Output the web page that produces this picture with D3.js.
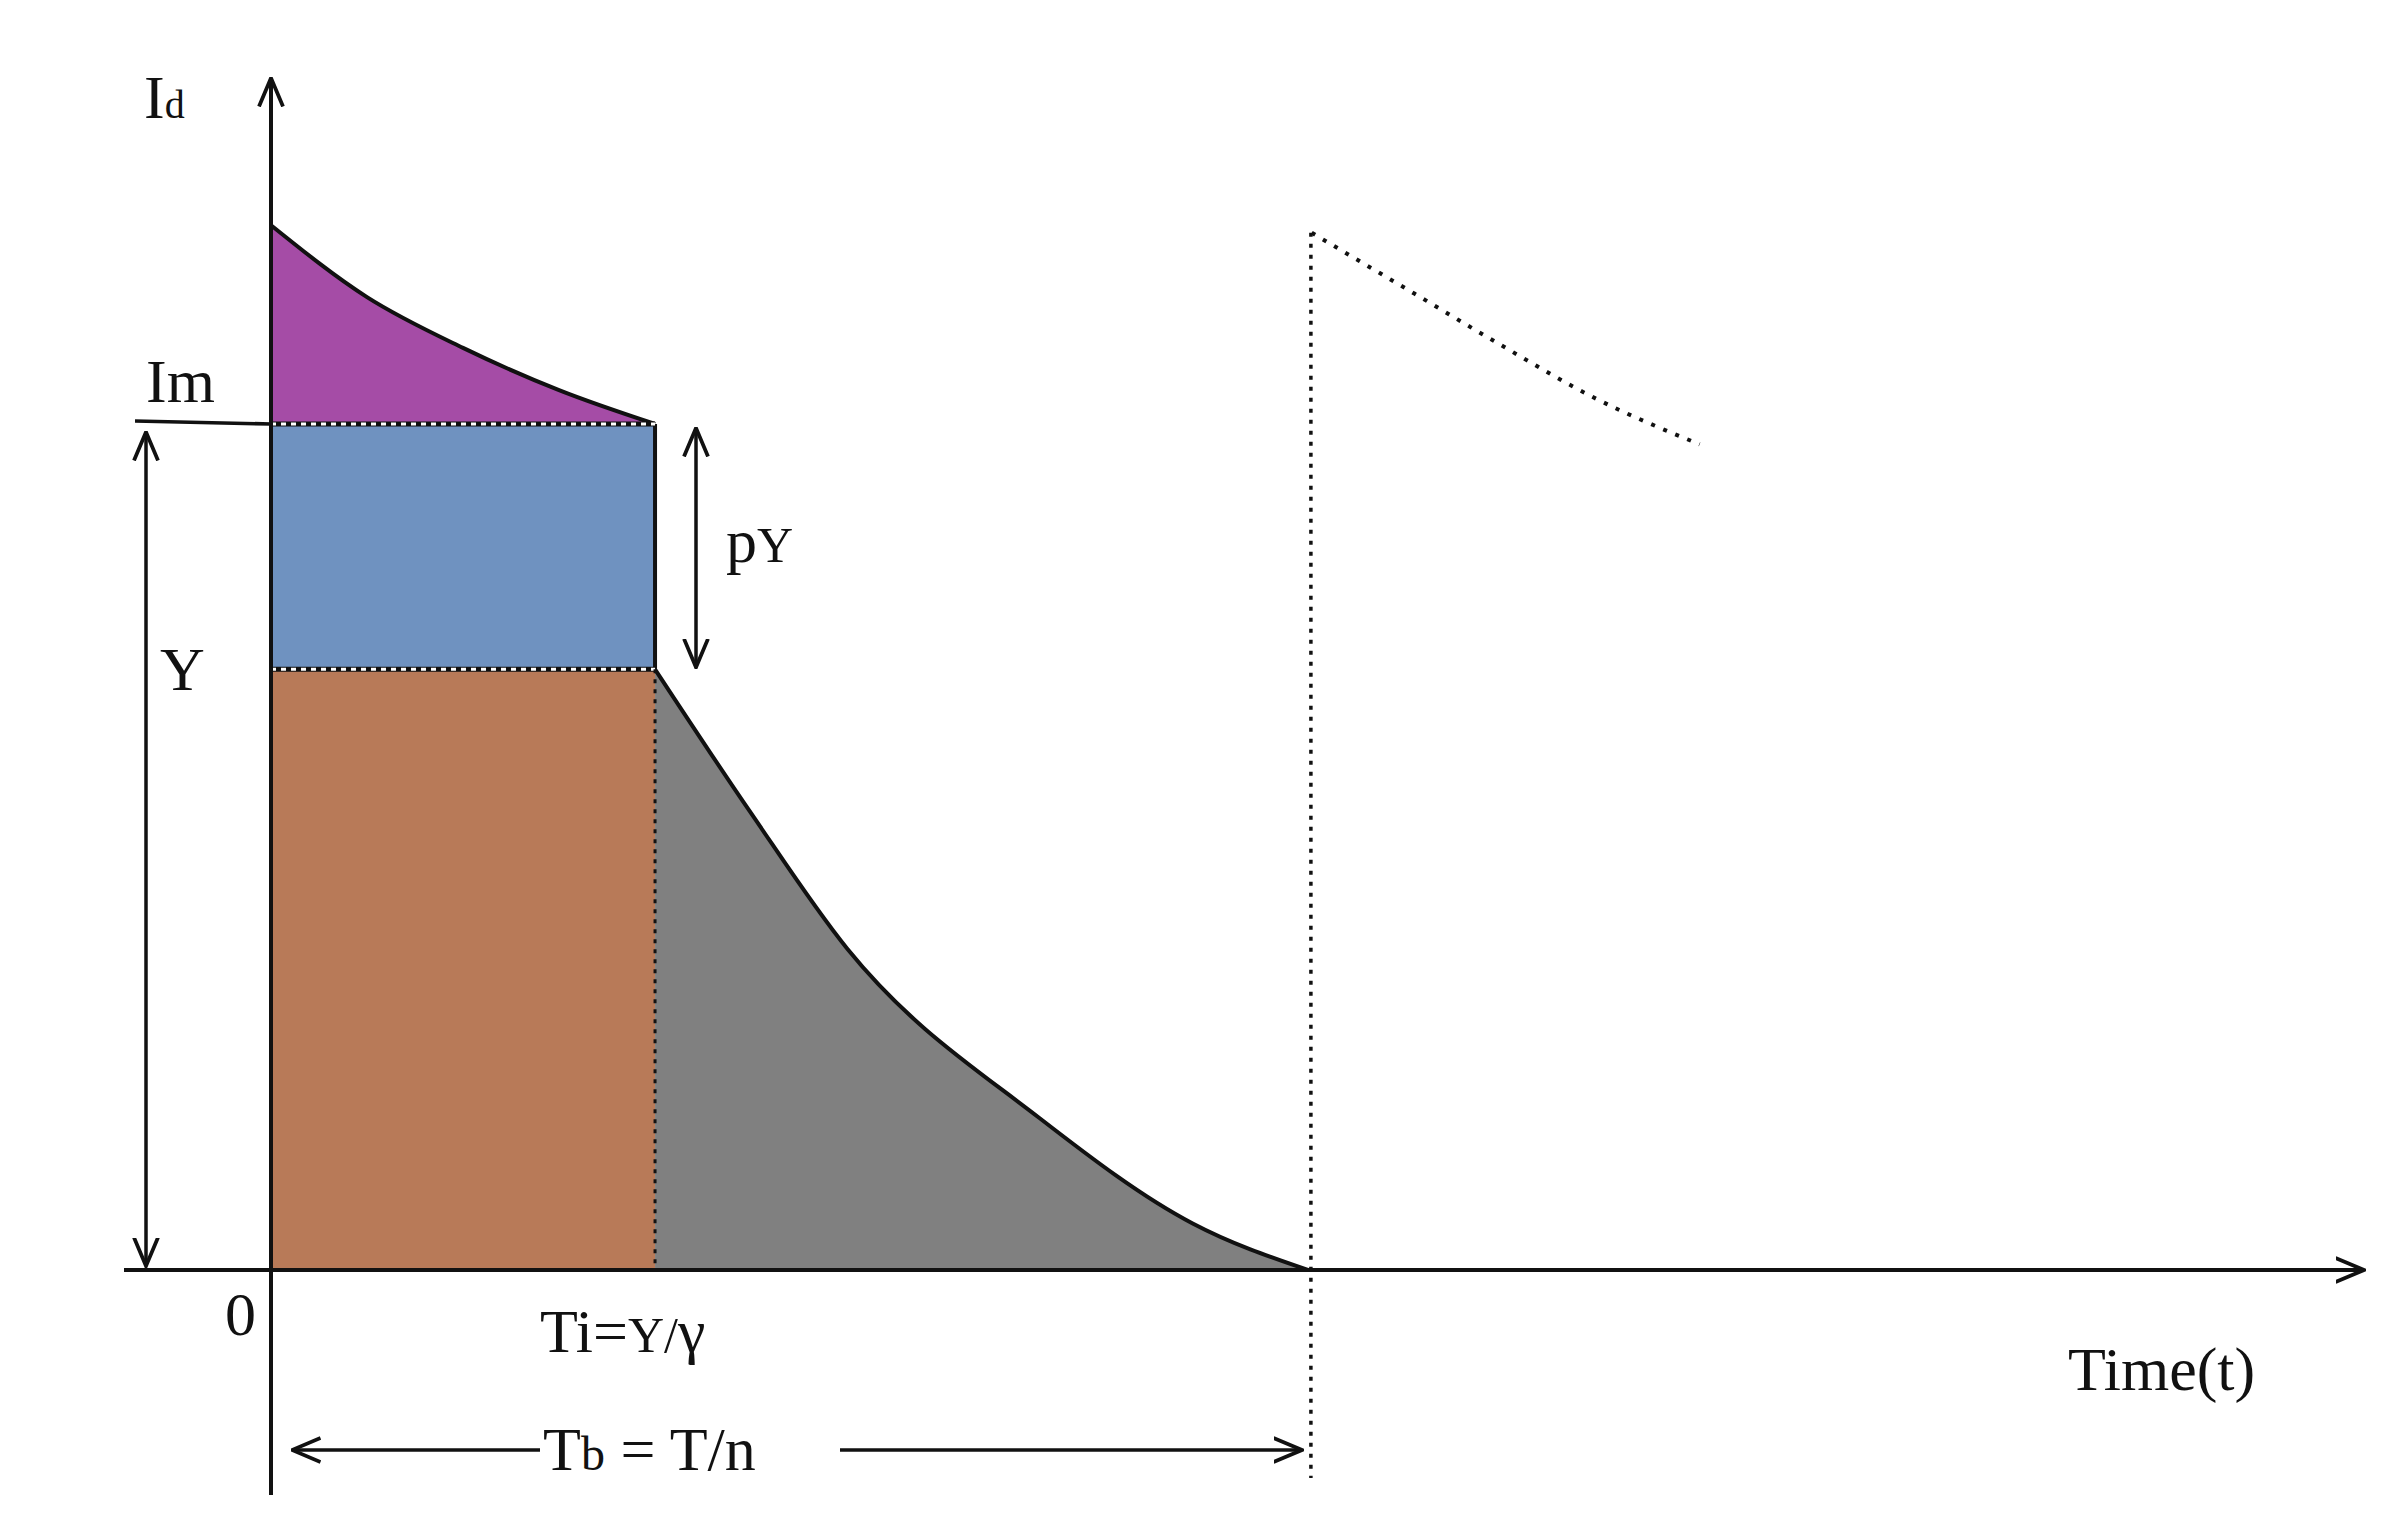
<!DOCTYPE html>
<html><head><meta charset="utf-8">
<script src="https://cdn.jsdelivr.net/npm/d3@7"></script>
<style>body{margin:0;background:#fff}text{font-family:"Liberation Serif","DejaVu Serif",serif;fill:#111}</style>
</head><body>
<script>
// time in units of Ti, current in units of Im
var Ti = 1, Tb = 2.7, Im = 1, blueLow = 0.71;
var topCurve = [[0,1.235],[0.25,1.15],[0.5,1.09],[0.75,1.04],[1,1.0]];
var tailCurve = [[1,0.71],[1.25,0.54],[1.5,0.38],[2,0.18],[2.4,0.055],[2.7,0]];
var nextCurve = [[2.71,1.226],[3.0,1.148],[3.2,1.094],[3.45,1.03],[3.72,0.976]];

var svg = d3.select("body").append("svg").attr("width", 2387).attr("height", 1538);
var x = d3.scaleLinear().domain([0, 5.45]).range([271, 2364]);
var y = d3.scaleLinear().domain([0, 1]).range([1270, 424]);
var line = d3.line().x(function(d){return x(d[0]);}).y(function(d){return y(d[1]);}).curve(d3.curveMonotoneX);

var defs = svg.append("defs");
defs.append("marker").attr("id","ah").attr("viewBox","0 0 20 20").attr("refX",19).attr("refY",10)
  .attr("markerWidth",30).attr("markerHeight",30).attr("markerUnits","userSpaceOnUse").attr("orient","auto-start-reverse")
  .append("path").attr("d","M0,2 L19,10 L0,18").attr("fill","none").attr("stroke","#111").attr("stroke-width",2.5);

// fills
svg.append("path").attr("fill","#a54ca6")
  .attr("d", line(topCurve) + "L" + x(0) + "," + y(Im) + "Z");
svg.append("rect").attr("fill","#6f92c0").attr("x",x(0)).attr("y",y(Im))
  .attr("width",x(Ti)-x(0)).attr("height",y(blueLow)-y(Im));
svg.append("rect").attr("fill","#b87a58").attr("x",x(0)).attr("y",y(blueLow))
  .attr("width",x(Ti)-x(0)).attr("height",y(0)-y(blueLow));
svg.append("path").attr("fill","#808080")
  .attr("d", line(tailCurve) + "L" + x(Ti) + "," + y(0) + "Z");

// curves
svg.append("path").attr("d",line(topCurve)).attr("fill","none").attr("stroke","#111").attr("stroke-width",4);
svg.append("path").attr("d",line(tailCurve)).attr("fill","none").attr("stroke","#111").attr("stroke-width",4);
svg.append("path").attr("d",line(nextCurve)).attr("fill","none").attr("stroke","#111").attr("stroke-width",4).attr("stroke-dasharray","4,9");
svg.append("line").attr("x1",x(Ti)).attr("x2",x(Ti)).attr("y1",y(Im)).attr("y2",y(blueLow)).attr("stroke","#111").attr("stroke-width",4);

// dotted boundaries
[Im, blueLow].forEach(function(v){
  svg.append("line").attr("x1",x(0)).attr("x2",x(Ti)).attr("y1",y(v)).attr("y2",y(v)).attr("stroke","#111").attr("stroke-width",5);
  svg.append("line").attr("x1",x(0)).attr("x2",x(Ti)).attr("y1",y(v)).attr("y2",y(v)).attr("stroke","#fff").attr("stroke-width",3).attr("stroke-dasharray","5,5");
});
svg.append("line").attr("x1",x(Ti)).attr("x2",x(Ti)).attr("y1",y(blueLow)).attr("y2",y(0)).attr("stroke","#111").attr("stroke-width",3).attr("stroke-dasharray","4,6");
svg.append("line").attr("x1",x(Tb)+3).attr("x2",x(Tb)+3).attr("y1",y(1.226)).attr("y2",1478).attr("stroke","#111").attr("stroke-width",3.5).attr("stroke-dasharray","4,7");

// axes
svg.append("line").attr("x1",x(0)).attr("x2",x(0)).attr("y1",1495).attr("y2",78).attr("stroke","#111").attr("stroke-width",4).attr("marker-end","url(#ah)");
svg.append("line").attr("x1",124).attr("x2",x(5.45)).attr("y1",y(0)).attr("y2",y(0)).attr("stroke","#111").attr("stroke-width",4).attr("marker-end","url(#ah)");
svg.append("line").attr("x1",135).attr("x2",x(0)).attr("y1",y(Im)-3).attr("y2",y(Im)).attr("stroke","#111").attr("stroke-width",3.5);

// dimension arrows
function darrow(x1,y1,x2,y2){
  svg.append("line").attr("x1",x1).attr("y1",y1).attr("x2",x2).attr("y2",y2).attr("stroke","#111").attr("stroke-width",3.5)
    .attr("marker-start","url(#ah)").attr("marker-end","url(#ah)");
}
darrow(146, y(Im)+8, 146, y(0)-4);
darrow(696, y(Im)+4, 696, y(blueLow)-2);
svg.append("line").attr("x1",292).attr("x2",540).attr("y1",1450).attr("y2",1450).attr("stroke","#111").attr("stroke-width",3.5).attr("marker-start","url(#ah)");
svg.append("line").attr("x1",840).attr("x2",1302).attr("y1",1450).attr("y2",1450).attr("stroke","#111").attr("stroke-width",3.5).attr("marker-end","url(#ah)");

// labels
function label(tx,ty,s,size){ return svg.append("text").attr("x",tx).attr("y",ty).attr("font-size",size||62).text(s); }
var t = label(144,118,"I"); t.append("tspan").attr("font-size",40).attr("dy",0).text("d");
label(146,402,"Im");
var p = label(726,562,"p"); p.append("tspan").attr("font-size",50).text("Y");
label(160,690,"Y");
label(225,1335,"0");
var ti = label(540,1352,"T"); ti.append("tspan").text("i="); ti.append("tspan").attr("font-size",50).text("Y/"); ti.append("tspan").text("γ");
label(2068,1390,"Time(t)");
var tb = label(543,1470,"T"); tb.append("tspan").attr("font-size",48).text("b"); tb.append("tspan").text(" = T/n");
</script>
</body></html>
